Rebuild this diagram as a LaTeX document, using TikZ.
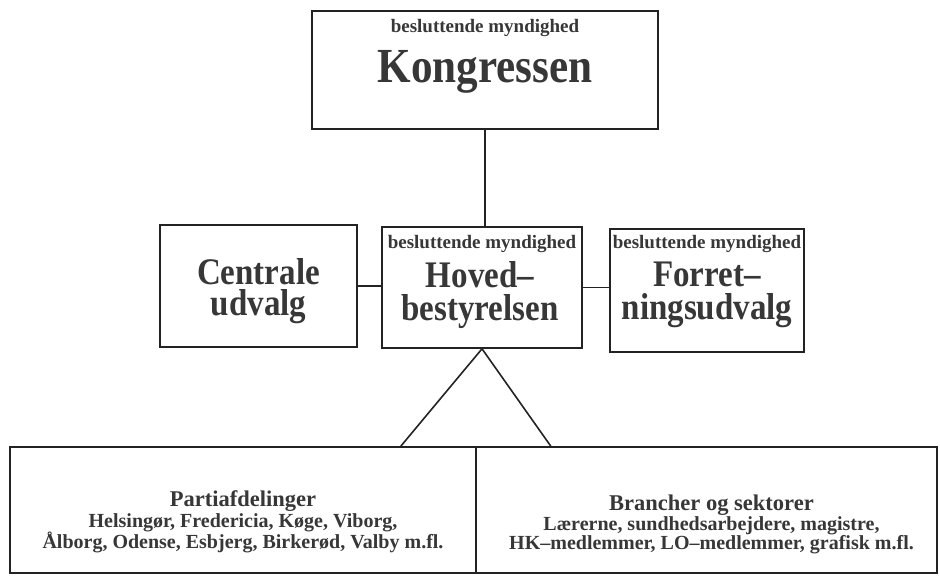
\documentclass[tikz,border=0pt]{standalone}
\usepackage{fontspec}
\setmainfont{Liberation Serif}
\newfontfamily\narrowfont[FakeStretch=0.88]{Liberation Serif}
\usetikzlibrary{positioning,calc}
\definecolor{inkgray}{RGB}{55,55,55}
\definecolor{linegray}{RGB}{35,35,35}
\tikzset{%
  % Specifications for style of nodes:
           base/.style = {draw=linegray, line width=1.6pt, inner sep=0pt},
         orgbox/.style = {base, fill=white},
       smalltxt/.style = {inner sep=0pt, text=inkgray,
                          font=\bfseries\fontsize{19}{20}\selectfont},
         bigtxt/.style = {inner sep=0pt, text=inkgray, align=center,
                          font=\narrowfont\bfseries\fontsize{37.5}{33.5}\selectfont},
     kongrestxt/.style = {bigtxt, font=\narrowfont\bfseries\fontsize{49}{50}\selectfont},
      branchtxt/.style = {inner sep=0pt, text=inkgray, align=center,
                          font=\bfseries\fontsize{20}{21}\selectfont},
%    process/.style = {base, fill=orange!15},
streg/.style={
           draw=linegray,
           line width=1.6pt,}
}

\begin{document}
\begin{tikzpicture}[x=1pt, y=-1pt, node distance=225pt]
\useasboundingbox (0,0) rectangle (940,577);

% middle row
\node (hoved)    [orgbox, minimum width=200pt, minimum height=121pt] at (482,287.5) {};
\node (centrale) [orgbox, minimum width=197pt, minimum height=122pt,
                  node distance=223.5pt, left of=hoved, yshift=1.5pt] {};
\node (forret)   [orgbox, minimum width=194pt, minimum height=123pt,
                  right of=hoved, yshift=-3pt] {};
\node (kongres)  [orgbox, minimum width=346pt, minimum height=118pt,
                  node distance=217.5pt, above of=hoved, xshift=3pt] {};

% bottom row
\node (parti)  [orgbox, minimum width=466pt, minimum height=126pt] at (243,510) {};
\node (branch) [orgbox, minimum width=461pt, minimum height=126pt,
                node distance=463.5pt, right of=parti] {};

% texts
\node (kongres-top) [smalltxt, anchor=base] at ([yshift=-22pt]kongres.north) {besluttende myndighed};
\node (kongres-txt) [kongrestxt, anchor=base] at ([yshift=-72pt]kongres.north) {Kongressen};

\node (centrale-txt) [bigtxt, anchor=north, font=\narrowfont\bfseries\fontsize{37.5}{31}\selectfont]
  at ([yshift=-34.5pt]centrale.north) {Centrale\\udvalg};

\node (hoved-top) [smalltxt, anchor=base] at ([yshift=-22pt]hoved.north) {besluttende myndighed};
\node (hoved-txt) [bigtxt, anchor=north] at ([xshift=-2pt,yshift=-35pt]hoved.north) {Hoved–\\bestyrelsen};

\node (forret-top) [smalltxt, anchor=base] at ([yshift=-20pt]forret.north) {besluttende myndighed};
\node (forret-txt) [bigtxt, anchor=north] at ([yshift=-33.5pt]forret.north) {Forret–\\ningsudvalg};

\node (parti-txt) [branchtxt, anchor=north] at ([yshift=-43.8pt]parti.north)
  {{\fontsize{22.5}{21}\selectfont Partiafdelinger}\\
   Helsingør, Fredericia, Køge, Viborg,\\
   Ålborg, Odense, Esbjerg, Birkerød, Valby m.fl.};
\node (branch-txt) [branchtxt, anchor=north, font=\bfseries\fontsize{20}{19.5}\selectfont]
  at ([xshift=5pt,yshift=-48.8pt]branch.north)
  {{\fontsize{22.5}{19.5}\selectfont Brancher og sektorer}\\
   Lærerne, sundhedsarbejdere, magistre,\\
   HK–medlemmer, LO–medlemmer, grafisk m.fl.};

% connectors
\draw[streg] (kongres.south) -- (kongres.south |- hoved.north);
\draw[streg] (centrale.east) -- (centrale.east -| hoved.west);
\draw[streg] (hoved.east) -- (hoved.east -| forret.west);

\coordinate (footL) at ($(parti.north east)+(-76,0)$);
\coordinate (footR) at ($(parti.north east)+(74,0)$);
\draw[streg] (footL) -- (hoved.south) -- (footR);

\end{tikzpicture}
\end{document}
